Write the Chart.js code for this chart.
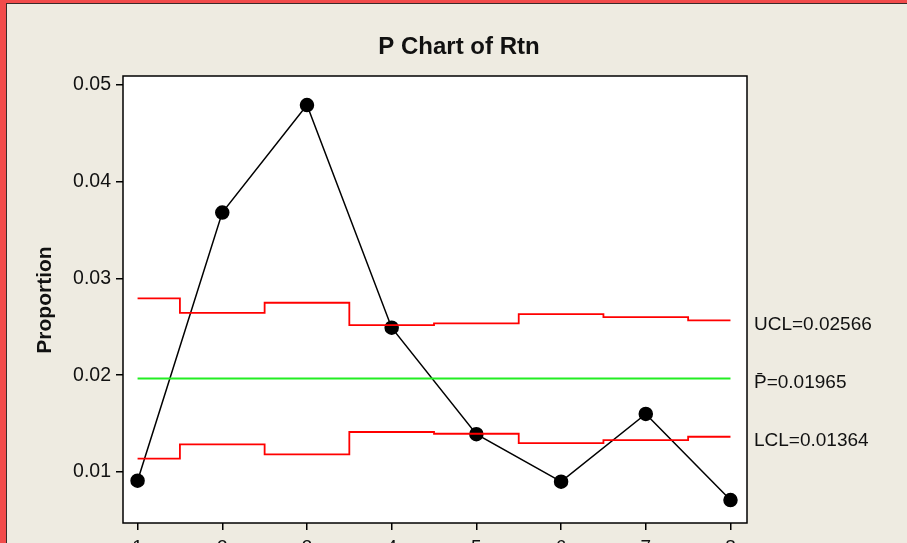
<!DOCTYPE html>
<html>
<head>
<meta charset="utf-8">
<script src="https://cdn.jsdelivr.net/npm/chart.js@4/dist/chart.umd.min.js"></script>
<style>
  html, body { margin: 0; padding: 0; background: #eeebe1; }
  #wrap { width: 907px; height: 543px; position: relative; }
</style>
</head>
<body>
<div id="wrap"><canvas id="c" width="907" height="543"></canvas></div>
<script>
// Sample numbers and observed proportions
const samples = [1, 2, 3, 4, 5, 6, 7, 8];
const proportion = [0.0091, 0.0368, 0.0479, 0.0249, 0.0139, 0.0090, 0.0160, 0.0071];

// Control limits per sample (vary with subgroup size)
const ucl = [0.02793, 0.02644, 0.02748, 0.02517, 0.02535, 0.02631, 0.02600, 0.02566];
const lcl = [0.01137, 0.01286, 0.01182, 0.01413, 0.01395, 0.01299, 0.01330, 0.01364];
const pBar = 0.01965;

// Axis ticks
const yTicks = [0.01, 0.02, 0.03, 0.04, 0.05];
const xTicks = [1, 2, 3, 4, 5, 6, 7, 8];

const chartTitle = 'P Chart of Rtn';
const yTitle = 'Proportion';
const limitLabels = ['UCL=0.02566', 'P\u0304=0.01965', 'LCL=0.01364'];

const FONT = '"Liberation Sans", Arial, sans-serif';

const pts = arr => samples.map((s, i) => ({ x: s, y: arr[i] }));

const frame = {
  id: 'frame',
  beforeDraw(chart) {
    const { ctx, chartArea: a, width, height } = chart;
    ctx.save();
    ctx.fillStyle = '#eeebe1';
    ctx.fillRect(0, 0, width, height);
    // window edge
    ctx.fillStyle = '#f24b4b';
    ctx.fillRect(0, 0, 6, height);
    ctx.fillRect(0, 0, width, 3);
    ctx.fillStyle = '#3a2a2a';
    ctx.fillRect(6, 3, 1, height - 3);
    ctx.fillRect(6, 3, width - 6, 1);
    // plot area
    ctx.fillStyle = '#ffffff';
    ctx.fillRect(a.left, a.top, a.right - a.left, a.bottom - a.top);
    ctx.restore();
  },
  afterDraw(chart) {
    const { ctx, chartArea: a, scales } = chart;
    ctx.save();
    ctx.strokeStyle = '#000';
    ctx.lineWidth = 1.5;
    ctx.strokeRect(a.left, a.top, a.right - a.left, a.bottom - a.top);

    ctx.fillStyle = '#111';
    ctx.textBaseline = 'middle';
    // title
    ctx.font = 'bold 24px ' + FONT;
    ctx.textAlign = 'center';
    ctx.fillText(chartTitle, 459, 47);
    // y axis title
    ctx.save();
    ctx.translate(45, 300);
    ctx.rotate(-Math.PI / 2);
    ctx.font = 'bold 21px ' + FONT;
    ctx.fillText(yTitle, 0, 0);
    ctx.restore();
    // limit labels
    ctx.font = '19px ' + FONT;
    ctx.textAlign = 'left';
    const ys = [ucl[ucl.length - 1], pBar, lcl[lcl.length - 1]];
    limitLabels.forEach((t, i) => {
      ctx.fillText(t, 754, scales.y.getPixelForValue(ys[i]) + 4);
    });
    ctx.restore();
  }
};

new Chart(document.getElementById('c'), {
  type: 'line',
  data: {
    datasets: [
      {
        data: pts(ucl), stepped: 'middle', borderColor: '#ff0000', borderWidth: 1.8,
        pointRadius: 0, fill: false
      },
      {
        data: pts(lcl), stepped: 'middle', borderColor: '#ff0000', borderWidth: 1.8,
        pointRadius: 0, fill: false
      },
      {
        data: [{ x: samples[0], y: pBar }, { x: samples[samples.length - 1], y: pBar }],
        borderColor: '#22ee22', borderWidth: 2, pointRadius: 0, fill: false
      },
      {
        data: pts(proportion), borderColor: '#000', borderWidth: 1.5, tension: 0,
        pointRadius: 6.5, pointBackgroundColor: '#000', pointBorderColor: '#000', fill: false
      }
    ]
  },
  options: {
    responsive: false,
    animation: false,
    devicePixelRatio: 1,
    layout: { padding: { top: 76, right: 160, left: 0, bottom: 0 } },
    plugins: { legend: { display: false }, tooltip: { enabled: false } },
    scales: {
      x: {
        type: 'linear', min: 0.828, max: 8.195,
        afterBuildTicks: s => { s.ticks = xTicks.map(v => ({ value: v })); },
        afterFit: s => { s.height = 20; },
        grid: { drawOnChartArea: false, drawTicks: true, tickLength: 7, color: '#000', lineWidth: 1.5 },
        border: { display: false },
        ticks: { color: '#111', padding: 6, font: { family: FONT, size: 19 }, callback: v => String(v), maxRotation: 0 }
      },
      y: {
        min: 0.00473, max: 0.0509,
        afterBuildTicks: s => { s.ticks = yTicks.map(v => ({ value: v })); },
        afterFit: s => { s.width = 123; },
        grid: { drawOnChartArea: false, drawTicks: true, tickLength: 7, color: '#000', lineWidth: 1.5 },
        border: { display: false },
        ticks: { color: '#111', padding: 5, font: { family: FONT, size: 19.5 }, callback: v => v.toFixed(2) }
      }
    }
  },
  plugins: [frame]
});
</script>
</body>
</html>
